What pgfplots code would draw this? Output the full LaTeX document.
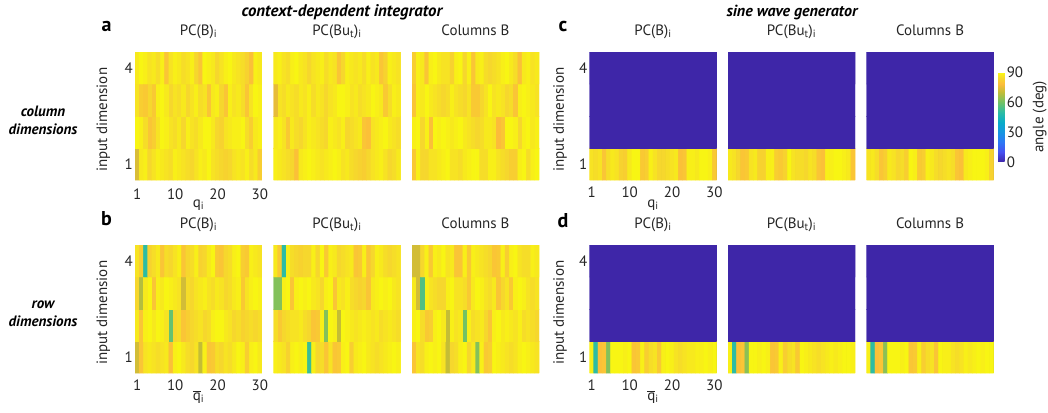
\documentclass[border=0pt]{standalone}
\usepackage{fontspec}
\setmainfont{PT Sans}
\usepackage{pgfplots}
\usepackage{pgfplotstable}
\pgfplotsset{compat=1.18}
\definecolor{txt}{rgb}{0.15,0.15,0.15}
\definecolor{pz}{RGB}{62,38,168}

% angle tables, 30 columns per row, row 1 (bottom) first
\pgfplotstableread[row sep=\\]{c\\
73\\ 87\\ 88\\ 84\\ 86\\ 88\\ 87\\ 86\\ 85\\ 88\\ 87\\ 86\\ 85\\ 84\\ 86\\ 88\\ 87\\ 89\\ 86\\ 85\\ 84\\ 83\\ 84\\ 86\\ 87\\ 86\\ 88\\ 85\\ 87\\ 82\\
89\\ 88\\ 85\\ 80\\ 82\\ 86\\ 89\\ 88\\ 86\\ 85\\ 87\\ 84\\ 88\\ 86\\ 85\\ 87\\ 89\\ 89\\ 87\\ 84\\ 83\\ 86\\ 87\\ 88\\ 88\\ 89\\ 85\\ 82\\ 87\\ 88\\
86\\ 82\\ 81\\ 84\\ 81\\ 88\\ 89\\ 87\\ 84\\ 86\\ 85\\ 87\\ 84\\ 86\\ 88\\ 85\\ 86\\ 80\\ 87\\ 88\\ 84\\ 80\\ 88\\ 86\\ 87\\ 85\\ 80\\ 86\\ 89\\ 88\\
87\\ 89\\ 88\\ 86\\ 87\\ 85\\ 88\\ 80\\ 86\\ 88\\ 87\\ 85\\ 86\\ 88\\ 84\\ 80\\ 89\\ 88\\ 87\\ 84\\ 86\\ 88\\ 89\\ 87\\ 86\\ 85\\ 83\\ 79\\ 88\\ 87\\
}\tAa
\pgfplotstableread[row sep=\\]{c\\
88\\ 87\\ 86\\ 85\\ 84\\ 79\\ 87\\ 88\\ 89\\ 88\\ 87\\ 86\\ 87\\ 88\\ 89\\ 88\\ 86\\ 87\\ 85\\ 84\\ 83\\ 82\\ 84\\ 86\\ 87\\ 88\\ 86\\ 84\\ 85\\ 87\\
87\\ 88\\ 86\\ 81\\ 87\\ 85\\ 84\\ 86\\ 88\\ 87\\ 86\\ 85\\ 84\\ 88\\ 87\\ 86\\ 88\\ 84\\ 85\\ 86\\ 87\\ 80\\ 79\\ 86\\ 87\\ 88\\ 89\\ 87\\ 86\\ 85\\
75\\ 86\\ 85\\ 87\\ 86\\ 85\\ 87\\ 86\\ 88\\ 85\\ 87\\ 86\\ 84\\ 86\\ 87\\ 89\\ 89\\ 88\\ 86\\ 87\\ 85\\ 86\\ 87\\ 89\\ 88\\ 87\\ 81\\ 85\\ 88\\ 87\\
87\\ 88\\ 86\\ 85\\ 88\\ 89\\ 87\\ 86\\ 84\\ 86\\ 87\\ 88\\ 85\\ 87\\ 86\\ 80\\ 84\\ 88\\ 87\\ 86\\ 87\\ 85\\ 88\\ 86\\ 87\\ 80\\ 83\\ 88\\ 87\\ 86\\
}\tAb
\pgfplotstableread[row sep=\\]{c\\
81\\ 88\\ 84\\ 84\\ 86\\ 86\\ 87\\ 88\\ 89\\ 86\\ 86\\ 85\\ 87\\ 88\\ 89\\ 89\\ 85\\ 85\\ 88\\ 88\\ 86\\ 85\\ 84\\ 82\\ 82\\ 88\\ 89\\ 85\\ 88\\ 89\\
88\\ 89\\ 84\\ 88\\ 79\\ 89\\ 88\\ 89\\ 88\\ 87\\ 88\\ 89\\ 87\\ 86\\ 85\\ 84\\ 85\\ 87\\ 87\\ 86\\ 78\\ 80\\ 89\\ 89\\ 88\\ 84\\ 88\\ 89\\ 87\\ 88\\
80\\ 88\\ 87\\ 89\\ 87\\ 86\\ 85\\ 84\\ 85\\ 88\\ 86\\ 85\\ 84\\ 86\\ 81\\ 81\\ 84\\ 86\\ 89\\ 86\\ 87\\ 86\\ 84\\ 85\\ 80\\ 88\\ 89\\ 88\\ 87\\ 86\\
82\\ 88\\ 87\\ 80\\ 88\\ 89\\ 87\\ 86\\ 86\\ 83\\ 88\\ 89\\ 84\\ 88\\ 80\\ 87\\ 88\\ 85\\ 84\\ 85\\ 86\\ 88\\ 89\\ 87\\ 85\\ 79\\ 87\\ 88\\ 86\\ 87\\
}\tAc
\pgfplotstableread[row sep=\\]{c\\
72\\ 80\\ 86\\ 87\\ 86\\ 85\\ 86\\ 87\\ 79\\ 88\\ 89\\ 87\\ 85\\ 84\\ 86\\ 70\\ 88\\ 80\\ 81\\ 85\\ 84\\ 86\\ 85\\ 87\\ 89\\ 88\\ 82\\ 88\\ 89\\ 87\\
87\\ 80\\ 88\\ 89\\ 87\\ 89\\ 88\\ 86\\ 58\\ 84\\ 85\\ 80\\ 82\\ 84\\ 85\\ 86\\ 84\\ 85\\ 88\\ 89\\ 89\\ 87\\ 86\\ 84\\ 85\\ 83\\ 84\\ 85\\ 84\\ 85\\
84\\ 68\\ 87\\ 89\\ 80\\ 88\\ 87\\ 89\\ 88\\ 87\\ 86\\ 72\\ 85\\ 84\\ 86\\ 87\\ 88\\ 86\\ 85\\ 87\\ 86\\ 84\\ 85\\ 87\\ 88\\ 81\\ 86\\ 88\\ 89\\ 88\\
86\\ 82\\ 50\\ 83\\ 85\\ 87\\ 80\\ 85\\ 84\\ 86\\ 88\\ 80\\ 84\\ 85\\ 88\\ 83\\ 84\\ 87\\ 89\\ 81\\ 80\\ 84\\ 85\\ 88\\ 89\\ 82\\ 81\\ 88\\ 87\\ 86\\
}\tBa
\pgfplotstableread[row sep=\\]{c\\
88\\ 87\\ 86\\ 83\\ 88\\ 89\\ 88\\ 89\\ 52\\ 88\\ 84\\ 85\\ 80\\ 86\\ 80\\ 81\\ 88\\ 89\\ 82\\ 87\\ 88\\ 89\\ 87\\ 86\\ 85\\ 86\\ 87\\ 88\\ 89\\ 88\\
85\\ 81\\ 84\\ 85\\ 86\\ 86\\ 87\\ 85\\ 84\\ 80\\ 81\\ 88\\ 62\\ 89\\ 88\\ 70\\ 89\\ 88\\ 87\\ 86\\ 87\\ 88\\ 87\\ 86\\ 87\\ 85\\ 86\\ 87\\ 86\\ 85\\
62\\ 62\\ 88\\ 89\\ 80\\ 88\\ 89\\ 88\\ 89\\ 87\\ 86\\ 84\\ 88\\ 89\\ 80\\ 87\\ 86\\ 88\\ 85\\ 84\\ 83\\ 84\\ 80\\ 87\\ 88\\ 89\\ 88\\ 89\\ 87\\ 86\\
87\\ 81\\ 50\\ 88\\ 85\\ 84\\ 83\\ 84\\ 84\\ 88\\ 84\\ 89\\ 81\\ 88\\ 87\\ 84\\ 85\\ 86\\ 87\\ 80\\ 81\\ 88\\ 80\\ 84\\ 88\\ 87\\ 85\\ 84\\ 85\\ 86\\
}\tBb
\pgfplotstableread[row sep=\\]{c\\
80\\ 86\\ 85\\ 88\\ 89\\ 88\\ 89\\ 86\\ 70\\ 84\\ 85\\ 88\\ 89\\ 84\\ 87\\ 62\\ 88\\ 81\\ 82\\ 89\\ 88\\ 87\\ 86\\ 85\\ 86\\ 88\\ 89\\ 88\\ 87\\ 86\\
88\\ 89\\ 85\\ 81\\ 82\\ 88\\ 89\\ 87\\ 70\\ 88\\ 86\\ 87\\ 60\\ 88\\ 85\\ 86\\ 87\\ 84\\ 80\\ 88\\ 89\\ 87\\ 88\\ 87\\ 86\\ 88\\ 85\\ 86\\ 85\\ 84\\
87\\ 72\\ 55\\ 88\\ 86\\ 85\\ 84\\ 84\\ 88\\ 89\\ 86\\ 86\\ 85\\ 81\\ 87\\ 89\\ 88\\ 86\\ 85\\ 87\\ 80\\ 84\\ 86\\ 81\\ 88\\ 89\\ 88\\ 86\\ 85\\ 86\\
72\\ 72\\ 84\\ 88\\ 81\\ 88\\ 87\\ 89\\ 86\\ 87\\ 80\\ 80\\ 88\\ 81\\ 88\\ 87\\ 86\\ 85\\ 84\\ 80\\ 81\\ 88\\ 82\\ 88\\ 89\\ 86\\ 85\\ 85\\ 88\\ 87\\
}\tBc
\pgfplotstableread[row sep=\\]{c\\
86\\ 85\\ 86\\ 80\\ 85\\ 87\\ 86\\ 83\\ 82\\ 87\\ 89\\ 89\\ 81\\ 82\\ 88\\ 86\\ 84\\ 84\\ 85\\ 86\\ 87\\ 79\\ 80\\ 88\\ 88\\ 87\\ 89\\ 89\\ 88\\ 81\\
0\\ 0\\ 0\\ 0\\ 0\\ 0\\ 0\\ 0\\ 0\\ 0\\ 0\\ 0\\ 0\\ 0\\ 0\\ 0\\ 0\\ 0\\ 0\\ 0\\ 0\\ 0\\ 0\\ 0\\ 0\\ 0\\ 0\\ 0\\ 0\\ 0\\
0\\ 0\\ 0\\ 0\\ 0\\ 0\\ 0\\ 0\\ 0\\ 0\\ 0\\ 0\\ 0\\ 0\\ 0\\ 0\\ 0\\ 0\\ 0\\ 0\\ 0\\ 0\\ 0\\ 0\\ 0\\ 0\\ 0\\ 0\\ 0\\ 0\\
0\\ 0\\ 0\\ 0\\ 0\\ 0\\ 0\\ 0\\ 0\\ 0\\ 0\\ 0\\ 0\\ 0\\ 0\\ 0\\ 0\\ 0\\ 0\\ 0\\ 0\\ 0\\ 0\\ 0\\ 0\\ 0\\ 0\\ 0\\ 0\\ 0\\
}\tCa
\pgfplotstableread[row sep=\\]{c\\
87\\ 86\\ 84\\ 80\\ 81\\ 86\\ 87\\ 83\\ 83\\ 88\\ 88\\ 82\\ 81\\ 83\\ 89\\ 86\\ 85\\ 85\\ 84\\ 86\\ 85\\ 80\\ 79\\ 88\\ 88\\ 89\\ 89\\ 88\\ 87\\ 80\\
0\\ 0\\ 0\\ 0\\ 0\\ 0\\ 0\\ 0\\ 0\\ 0\\ 0\\ 0\\ 0\\ 0\\ 0\\ 0\\ 0\\ 0\\ 0\\ 0\\ 0\\ 0\\ 0\\ 0\\ 0\\ 0\\ 0\\ 0\\ 0\\ 0\\
0\\ 0\\ 0\\ 0\\ 0\\ 0\\ 0\\ 0\\ 0\\ 0\\ 0\\ 0\\ 0\\ 0\\ 0\\ 0\\ 0\\ 0\\ 0\\ 0\\ 0\\ 0\\ 0\\ 0\\ 0\\ 0\\ 0\\ 0\\ 0\\ 0\\
0\\ 0\\ 0\\ 0\\ 0\\ 0\\ 0\\ 0\\ 0\\ 0\\ 0\\ 0\\ 0\\ 0\\ 0\\ 0\\ 0\\ 0\\ 0\\ 0\\ 0\\ 0\\ 0\\ 0\\ 0\\ 0\\ 0\\ 0\\ 0\\ 0\\
}\tCb
\pgfplotstableread[row sep=\\]{c\\
86\\ 87\\ 85\\ 80\\ 82\\ 87\\ 86\\ 84\\ 85\\ 82\\ 89\\ 88\\ 81\\ 82\\ 88\\ 87\\ 85\\ 84\\ 85\\ 86\\ 85\\ 80\\ 79\\ 87\\ 88\\ 89\\ 89\\ 89\\ 88\\ 83\\
0\\ 0\\ 0\\ 0\\ 0\\ 0\\ 0\\ 0\\ 0\\ 0\\ 0\\ 0\\ 0\\ 0\\ 0\\ 0\\ 0\\ 0\\ 0\\ 0\\ 0\\ 0\\ 0\\ 0\\ 0\\ 0\\ 0\\ 0\\ 0\\ 0\\
0\\ 0\\ 0\\ 0\\ 0\\ 0\\ 0\\ 0\\ 0\\ 0\\ 0\\ 0\\ 0\\ 0\\ 0\\ 0\\ 0\\ 0\\ 0\\ 0\\ 0\\ 0\\ 0\\ 0\\ 0\\ 0\\ 0\\ 0\\ 0\\ 0\\
0\\ 0\\ 0\\ 0\\ 0\\ 0\\ 0\\ 0\\ 0\\ 0\\ 0\\ 0\\ 0\\ 0\\ 0\\ 0\\ 0\\ 0\\ 0\\ 0\\ 0\\ 0\\ 0\\ 0\\ 0\\ 0\\ 0\\ 0\\ 0\\ 0\\
}\tCc
\pgfplotstableread[row sep=\\]{c\\
88\\ 50\\ 79\\ 80\\ 62\\ 89\\ 89\\ 89\\ 88\\ 89\\ 80\\ 81\\ 88\\ 82\\ 85\\ 86\\ 81\\ 88\\ 89\\ 88\\ 86\\ 85\\ 86\\ 87\\ 87\\ 88\\ 88\\ 89\\ 88\\ 89\\
0\\ 0\\ 0\\ 0\\ 0\\ 0\\ 0\\ 0\\ 0\\ 0\\ 0\\ 0\\ 0\\ 0\\ 0\\ 0\\ 0\\ 0\\ 0\\ 0\\ 0\\ 0\\ 0\\ 0\\ 0\\ 0\\ 0\\ 0\\ 0\\ 0\\
0\\ 0\\ 0\\ 0\\ 0\\ 0\\ 0\\ 0\\ 0\\ 0\\ 0\\ 0\\ 0\\ 0\\ 0\\ 0\\ 0\\ 0\\ 0\\ 0\\ 0\\ 0\\ 0\\ 0\\ 0\\ 0\\ 0\\ 0\\ 0\\ 0\\
0\\ 0\\ 0\\ 0\\ 0\\ 0\\ 0\\ 0\\ 0\\ 0\\ 0\\ 0\\ 0\\ 0\\ 0\\ 0\\ 0\\ 0\\ 0\\ 0\\ 0\\ 0\\ 0\\ 0\\ 0\\ 0\\ 0\\ 0\\ 0\\ 0\\
}\tDa
\pgfplotstableread[row sep=\\]{c\\
88\\ 50\\ 79\\ 80\\ 63\\ 89\\ 89\\ 88\\ 89\\ 88\\ 80\\ 81\\ 88\\ 82\\ 85\\ 86\\ 81\\ 89\\ 88\\ 87\\ 86\\ 85\\ 86\\ 87\\ 88\\ 87\\ 88\\ 89\\ 89\\ 88\\
0\\ 0\\ 0\\ 0\\ 0\\ 0\\ 0\\ 0\\ 0\\ 0\\ 0\\ 0\\ 0\\ 0\\ 0\\ 0\\ 0\\ 0\\ 0\\ 0\\ 0\\ 0\\ 0\\ 0\\ 0\\ 0\\ 0\\ 0\\ 0\\ 0\\
0\\ 0\\ 0\\ 0\\ 0\\ 0\\ 0\\ 0\\ 0\\ 0\\ 0\\ 0\\ 0\\ 0\\ 0\\ 0\\ 0\\ 0\\ 0\\ 0\\ 0\\ 0\\ 0\\ 0\\ 0\\ 0\\ 0\\ 0\\ 0\\ 0\\
0\\ 0\\ 0\\ 0\\ 0\\ 0\\ 0\\ 0\\ 0\\ 0\\ 0\\ 0\\ 0\\ 0\\ 0\\ 0\\ 0\\ 0\\ 0\\ 0\\ 0\\ 0\\ 0\\ 0\\ 0\\ 0\\ 0\\ 0\\ 0\\ 0\\
}\tDb
\pgfplotstableread[row sep=\\]{c\\
88\\ 50\\ 79\\ 80\\ 63\\ 89\\ 89\\ 89\\ 88\\ 89\\ 80\\ 81\\ 88\\ 82\\ 85\\ 86\\ 80\\ 89\\ 88\\ 88\\ 86\\ 85\\ 86\\ 88\\ 87\\ 88\\ 89\\ 88\\ 89\\ 89\\
0\\ 0\\ 0\\ 0\\ 0\\ 0\\ 0\\ 0\\ 0\\ 0\\ 0\\ 0\\ 0\\ 0\\ 0\\ 0\\ 0\\ 0\\ 0\\ 0\\ 0\\ 0\\ 0\\ 0\\ 0\\ 0\\ 0\\ 0\\ 0\\ 0\\
0\\ 0\\ 0\\ 0\\ 0\\ 0\\ 0\\ 0\\ 0\\ 0\\ 0\\ 0\\ 0\\ 0\\ 0\\ 0\\ 0\\ 0\\ 0\\ 0\\ 0\\ 0\\ 0\\ 0\\ 0\\ 0\\ 0\\ 0\\ 0\\ 0\\
0\\ 0\\ 0\\ 0\\ 0\\ 0\\ 0\\ 0\\ 0\\ 0\\ 0\\ 0\\ 0\\ 0\\ 0\\ 0\\ 0\\ 0\\ 0\\ 0\\ 0\\ 0\\ 0\\ 0\\ 0\\ 0\\ 0\\ 0\\ 0\\ 0\\
}\tDc

\pgfplotsset{
  /pgf/number format/assume math mode=true,
  colormap={parula}{rgb255(0pt)=(62,38,168) rgb255(10pt)=(71,80,242) rgb255(20pt)=(45,120,245)
    rgb255(30pt)=(22,150,225) rgb255(40pt)=(8,172,200) rgb255(50pt)=(45,188,163)
    rgb255(60pt)=(115,194,100) rgb255(70pt)=(196,189,54) rgb255(78pt)=(252,188,58)
    rgb255(84pt)=(246,215,45) rgb255(90pt)=(249,251,14)},
  hm/.style={scale only axis, width=127bp, height=128bp, anchor=north west,
    xmin=0.5, xmax=30.5, ymin=0.5, ymax=4.5,
    point meta min=0, point meta max=90,
    axis line style={draw=none}, major tick length=0pt,
    xtick=\empty, ytick=\empty,
    every tick label/.append style={text=txt},
    yticklabel style={inner sep=2bp},
    xticklabel style={anchor=base, yshift=-17bp},
    title style={at={(axis description cs:0.5,1)}, anchor=base, yshift=11bp, text=txt},
    ylabel style={at={(axis description cs:-0.25,0.47)}, anchor=center, text=txt},
    xlabel style={at={(axis description cs:0.5,0)}, anchor=base, yshift=-27.5bp, text=txt},
  },
  sw/.style={axis background/.style={fill=pz}},
  lead/.style={xtick={1,10,20,30}, ytick={1,4}, ylabel={input dimension}},
}
\tikzset{
  grp/.style={font=\bfseries\itshape, anchor=base},
  plet/.style={font=\bfseries\fontsize{20bp}{24bp}\selectfont, anchor=base},
}
% each heatmap is drawn twice so that the hairline seams between cells close up
\newcommand{\hmplot}[1]{%
  \addplot[matrix plot*, mesh/cols=30, point meta=explicit]
    table[x index=0, y index=0, x expr={mod(\coordindex,30)+1}, y expr={floor(\coordindex/30)+1}, meta=c] {#1};
  \addplot[matrix plot*, mesh/cols=30, point meta=explicit]
    table[x index=0, y index=0, x expr={mod(\coordindex,30)+1}, y expr={floor(\coordindex/30)+1}, meta=c] {#1};}

\begin{document}
\fontsize{15bp}{18bp}\selectfont
\begin{tikzpicture}
% context-dependent integrator, column dimensions
\begin{axis}[hm, lead, at={(135bp,-52bp)}, title={PC(B)\textsubscript{i}}, xlabel={q\textsubscript{i}}, xticklabel style={yshift=-2bp}]
\hmplot{\tAa}
\end{axis}
\begin{axis}[hm, at={(273.5bp,-52bp)}, title={PC(Bu\textsubscript{t})\textsubscript{i}}]
\hmplot{\tAb}
\end{axis}
\begin{axis}[hm, at={(412bp,-52bp)}, title={Columns B}]
\hmplot{\tAc}
\end{axis}
% context-dependent integrator, row dimensions
\begin{axis}[hm, lead, at={(135bp,-245bp)}, title={PC(B)\textsubscript{i}}, xlabel={$\overline{\hbox{q}}$\textsubscript{i}}]
\hmplot{\tBa}
\end{axis}
\begin{axis}[hm, at={(273.5bp,-245bp)}, title={PC(Bu\textsubscript{t})\textsubscript{i}}]
\hmplot{\tBb}
\end{axis}
\begin{axis}[hm, at={(412bp,-245bp)}, title={Columns B}]
\hmplot{\tBc}
\end{axis}
% sine wave generator, column dimensions
\begin{axis}[hm, sw, lead, at={(589.5bp,-52bp)}, title={PC(B)\textsubscript{i}}, xlabel={q\textsubscript{i}}, ylabel style={at={(axis description cs:-0.232,0.47)}}]
\hmplot{\tCa}
\end{axis}
\begin{axis}[hm, sw, at={(728bp,-52bp)}, title={PC(Bu\textsubscript{t})\textsubscript{i}}]
\hmplot{\tCb}
\end{axis}
\begin{axis}[hm, sw, at={(866.5bp,-52bp)}, title={Columns B},
  colorbar, colorbar style={scale only axis, width=6.6bp, height=90bp,
    at={(parent axis.north east)}, anchor=north west, xshift=-4bp, yshift=-20bp,
    ytick={0,30,60,90}, ylabel={angle (deg)}, axis line style={draw=none},
    axis background/.style={},
    major tick length=0pt, yticklabel style={text=txt, inner sep=2bp},
    ylabel style={text=txt, at={(axis description cs:6.3,0.5)}, anchor=center, rotate=0}}]
\hmplot{\tCc}
\end{axis}
% sine wave generator, row dimensions
\begin{axis}[hm, sw, lead, at={(589.5bp,-245bp)}, title={PC(B)\textsubscript{i}}, xlabel={$\overline{\hbox{q}}$\textsubscript{i}}, ylabel style={at={(axis description cs:-0.232,0.47)}}]
\hmplot{\tDa}
\end{axis}
\begin{axis}[hm, sw, at={(728bp,-245bp)}, title={PC(Bu\textsubscript{t})\textsubscript{i}}]
\hmplot{\tDb}
\end{axis}
\begin{axis}[hm, sw, at={(866.5bp,-245bp)}, title={Columns B}]
\hmplot{\tDc}
\end{axis}

\node[grp, font=\bfseries\itshape\fontsize{16.8bp}{20bp}\selectfont] at (342bp,-16bp) {context-dependent integrator};
\node[grp, font=\bfseries\itshape\fontsize{16bp}{20bp}\selectfont] at (792bp,-16bp) {sine wave generator};
\node[plet] at (106.5bp,-31bp) {a};
\node[plet] at (106.5bp,-225bp) {b};
\node[plet] at (563bp,-31bp) {c};
\node[plet] at (563bp,-227bp) {d};
\node[grp] at (43bp,-116bp) {column};
\node[grp] at (43bp,-134bp) {dimensions};
\node[grp] at (43bp,-308bp) {row};
\node[grp] at (43bp,-326bp) {dimensions};

\pgfresetboundingbox
\path[use as bounding box] (0,0) rectangle (1048bp,-413bp);
\end{tikzpicture}
\end{document}
